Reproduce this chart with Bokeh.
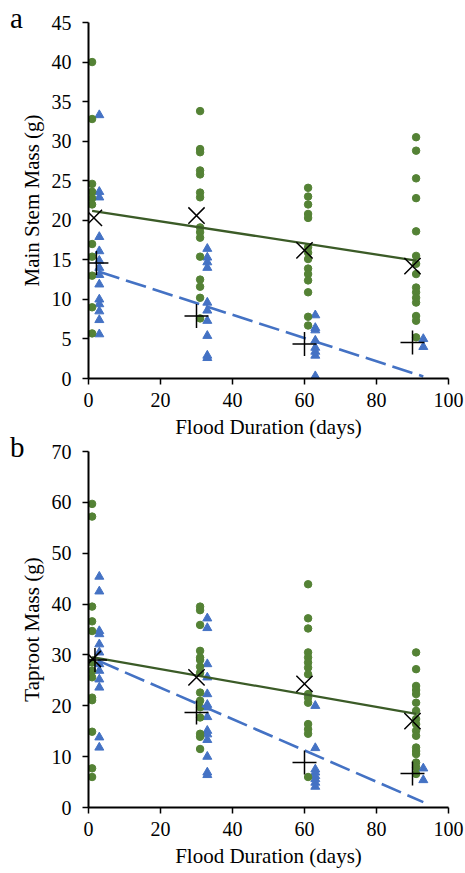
from bokeh.plotting import figure
from bokeh.models import Range1d, FixedTicker, Div
from bokeh.layouts import column
from bokeh.embed import file_html
from bokeh.resources import INLINE

# ---------------- data ----------------
flood_days = [0, 30, 60, 90]
x_ticks = [0, 20, 40, 60, 80, 100]

# Panel a: main stem mass (g)
stem_green = [
    [40.0, 32.8, 24.6, 23.6, 22.8, 22.0, 17.0, 15.4, 13.0, 9.0, 5.7],
    [33.8, 29.0, 28.6, 26.3, 25.8, 23.5, 22.9, 19.1, 18.5, 17.8, 15.4, 12.5, 11.6, 10.2, 7.6],
    [24.1, 23.0, 22.0, 20.8, 20.3, 16.6, 15.9, 15.1, 13.9, 13.2, 12.4, 10.9, 7.8, 6.7],
    [30.5, 28.8, 25.3, 22.8, 18.6, 15.5, 14.5, 13.2, 11.5, 10.9, 10.2, 9.6, 7.9, 7.3, 5.2],
]
stem_blue = [
    [33.3, 23.6, 22.9, 17.9, 16.1, 14.9, 14.0, 13.1, 11.9, 10.0, 9.4, 8.5, 7.4, 5.6],
    [16.4, 15.3, 14.7, 14.0, 9.6, 8.6, 7.3, 5.4, 2.9, 2.6],
    [8.0, 6.4, 6.1, 4.8, 3.9, 3.4, 2.9, 0.3],
    [5.0, 4.0],
]
stem_green_mean_days = [1.5, 30, 60, 90]
stem_green_mean = [20.3, 20.6, 16.2, 14.2]
stem_blue_mean_days = [2.2, 30, 60, 90]
stem_blue_mean = [14.6, 7.9, 4.35, 4.55]
stem_green_trend = (21.27, -0.070)   # intercept, slope
stem_blue_trend = (13.93, -0.147)
stem_y_ticks = [0, 5, 10, 15, 20, 25, 30, 35, 40, 45]

# Panel b: taproot mass (g)
root_green = [
    [59.7, 57.2, 39.5, 36.6, 34.7, 28.5, 26.9, 25.6, 21.6, 21.1, 14.9, 7.7, 6.0],
    [39.5, 38.8, 35.9, 30.8, 29.5, 29.0, 27.7, 26.5, 22.6, 21.0, 19.7, 17.7, 14.5, 13.9, 11.5],
    [43.9, 37.2, 35.2, 30.5, 29.5, 28.5, 27.5, 26.2, 22.3, 21.6, 20.6, 16.4, 15.4, 14.5, 6.0],
    [30.5, 27.2, 23.9, 23.1, 22.3, 20.6, 19.0, 17.4, 16.4, 15.1, 14.1, 11.8, 11.1, 10.5, 8.85, 7.9, 6.6],
]
root_blue = [
    [45.4, 42.5, 34.7, 34.1, 32.1, 30.5, 28.2, 26.9, 25.2, 23.6, 13.8, 11.8],
    [37.2, 35.3, 28.2, 25.6, 22.3, 20.2, 19.7, 17.8, 15.1, 14.4, 13.3, 10.0, 6.9, 6.4],
    [20.0, 11.7, 7.5, 6.9, 6.2, 5.6, 4.9, 4.1],
    [7.7, 5.4],
]
root_green_mean_days = [1.2, 30, 60, 90]
root_green_mean = [29.2, 25.6, 24.3, 17.0]
root_blue_mean_days = [1.8, 30, 60, 90]
root_blue_mean = [29.0, 18.7, 8.85, 6.7]
root_green_trend = (29.7, -0.124)
root_blue_trend = (29.7, -0.308)
root_y_ticks = [0, 10, 20, 30, 40, 50, 60, 70]

GREEN_OFFSET = 1   # green series plotted one day after the flood duration
BLUE_OFFSET = 3    # blue series plotted three days after

GREEN = "#548235"
GREEN_LINE = "#3b5b27"
BLUE = "#4472C4"
FONT = "'Liberation Serif'"


def flatten(groups, offset):
    xs, ys = [], []
    for d, vals in zip(flood_days, groups):
        for v in vals:
            xs.append(d + offset)
            ys.append(v)
    return xs, ys


def panel(ylabel, ymax, yticks, green, blue, gm_x, gm, bm_x, bm, gtr, btr,
          height, top, bottom):
    p = figure(width=465, height=height, x_range=Range1d(0, 100), y_range=Range1d(0, ymax),
               output_backend="svg", toolbar_location=None,
               min_border_left=88, min_border_right=17,
               min_border_top=top, min_border_bottom=bottom)
    p.border_fill_color = None
    p.background_fill_color = None
    p.outline_line_color = None
    p.xgrid.visible = False
    p.ygrid.visible = False

    for ax in (p.xaxis[0], p.yaxis[0]):
        ax.axis_line_color = "black"
        ax.axis_line_width = 2
        ax.major_tick_line_color = "black"
        ax.major_tick_line_width = 1.5
        ax.major_tick_in = 0
        ax.major_tick_out = 6
        ax.minor_tick_line_color = None
        ax.major_label_text_font = FONT
        ax.major_label_text_font_size = "20px"
        ax.major_label_text_color = "black"
        ax.axis_label_text_font = FONT
        ax.axis_label_text_font_size = "21px"
        ax.axis_label_text_font_style = "normal"
        ax.axis_label_text_color = "black"
    p.xaxis.ticker = FixedTicker(ticks=x_ticks)
    p.yaxis.ticker = FixedTicker(ticks=yticks)
    p.xaxis.axis_label = "Flood Duration (days)"
    p.yaxis.axis_label = ylabel
    p.xaxis.major_label_standoff = 8
    p.yaxis.major_label_standoff = 11
    p.xaxis.axis_label_standoff = 5
    p.yaxis.axis_label_standoff = 5

    bx, by = flatten(blue, BLUE_OFFSET)
    gx, gy = flatten(green, GREEN_OFFSET)
    p.scatter(x=bx, y=by, marker="triangle", size=9, fill_color=BLUE, line_color=BLUE)
    p.scatter(x=gx, y=gy, marker="circle", size=7.5, fill_color=GREEN, line_color=GREEN)

    gx0, gx1 = GREEN_OFFSET, flood_days[-1] + GREEN_OFFSET
    bx0, bx1 = BLUE_OFFSET, flood_days[-1] + BLUE_OFFSET
    p.line(x=[gx0, gx1], y=[gtr[0] + gtr[1] * gx0, gtr[0] + gtr[1] * gx1],
           line_color=GREEN_LINE, line_width=2.3)
    p.line(x=[bx0, bx1], y=[btr[0] + btr[1] * bx0, btr[0] + btr[1] * bx1],
           line_color=BLUE, line_width=2.6, line_dash="21 7")

    p.scatter(x=gm_x, y=gm, marker="x", size=23, line_color="black", line_width=1.5)
    p.scatter(x=bm_x, y=bm, marker="cross", size=24, line_color="black", line_width=1.5)
    return p


def letter(txt, margin):
    return Div(text=txt, width=40, height=36, margin=margin,
               styles={"font-family": "'Liberation Serif', serif", "font-size": "29px",
                       "line-height": "29px", "color": "black"})


pa = panel("Main Stem Mass (g)", 45, stem_y_ticks, stem_green, stem_blue,
           stem_green_mean_days, stem_green_mean, stem_blue_mean_days, stem_blue_mean,
           stem_green_trend, stem_blue_trend, height=448, top=22, bottom=70)
pb = panel("Taproot Mass (g)", 70, root_y_ticks, root_green, root_blue,
           root_green_mean_days, root_green_mean, root_blue_mean_days, root_blue_mean,
           root_green_trend, root_blue_trend, height=441, top=19, bottom=66)
pb.margin = (-16, 0, 0, 0)

la = letter("a", (4, 0, -40, 10))
lb = letter("b", (-15, 0, -21, 10))

layout = column(la, pa, lb, pb)
open("out.html", "w").write(file_html(layout, INLINE))
